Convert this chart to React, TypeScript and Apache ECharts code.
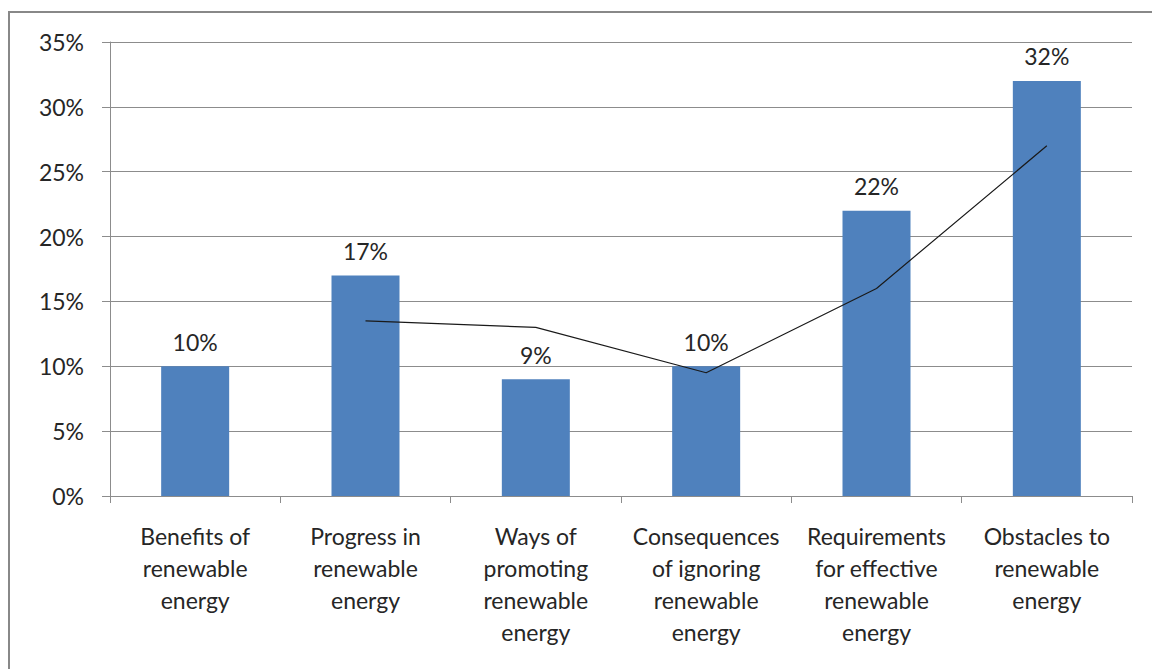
import React, { useEffect, useRef } from "react";
import * as echarts from "echarts";

const categories = [
  "Benefits of\nrenewable\nenergy",
  "Progress in\nrenewable\nenergy",
  "Ways of\npromoting\nrenewable\nenergy",
  "Consequences\nof ignoring\nrenewable\nenergy",
  "Requirements\nfor effective\nrenewable\nenergy",
  "Obstacles to\nrenewable\nenergy",
];
const shares = [10, 17, 9, 10, 22, 32];
const movingAverage = [null, 13.5, 13, 9.5, 16, 27];
const yTicks = [0, 5, 10, 15, 20, 25, 30, 35];

export default function App() {
  const ref = useRef<HTMLDivElement>(null);
  useEffect(() => {
    if (!ref.current) return;
    const chart = echarts.init(ref.current, null, { renderer: "svg" });
    const font = "Lato, 'Open Sans', sans-serif";
    const textColor = "#262626";
    chart.setOption({
      animation: false,
      backgroundColor: "#ffffff",
      textStyle: { fontFamily: font },
      grid: { left: 110, right: 20, top: 42, bottom: 173, containLabel: false },
      graphic: [
        {
          type: "rect",
          shape: { x: 9, y: 12, width: 1170, height: 700 },
          style: { fill: "none", stroke: "#888888", lineWidth: 2 },
          silent: true,
        },
      ],
      xAxis: {
        type: "category",
        data: categories,
        boundaryGap: true,
        axisLine: { show: true, lineStyle: { color: "#8c8c8c", width: 1 } },
        axisTick: { show: true, length: 7, lineStyle: { color: "#8c8c8c" }, alignWithLabel: false },
        axisLabel: {
          interval: 0,
          color: textColor,
          fontSize: 23,
          lineHeight: 32,
          margin: 24,
          fontFamily: font,
        },
      },
      yAxis: {
        type: "value",
        min: yTicks[0],
        max: yTicks[yTicks.length - 1],
        interval: 5,
        axisLine: { show: true, lineStyle: { color: "#8c8c8c", width: 1 } },
        axisTick: { show: true, length: 8, lineStyle: { color: "#8c8c8c" } },
        splitLine: { show: true, lineStyle: { color: "#8c8c8c", width: 1 } },
        axisLabel: {
          color: textColor,
          fontSize: 23,
          margin: 26,
          fontFamily: font,
          formatter: (v: number) => `${v}%`,
        },
      },
      series: [
        {
          type: "bar",
          data: shares,
          barWidth: 68,
          itemStyle: { color: "#4f81bd" },
          label: {
            show: true,
            position: "top",
            distance: 13,
            color: textColor,
            fontSize: 23,
            fontFamily: font,
            formatter: (p: any) => `${p.value}%`,
          },
        },
        {
          type: "line",
          data: movingAverage,
          showSymbol: false,
          symbol: "none",
          connectNulls: false,
          lineStyle: { color: "#1a1a1a", width: 1.2 },
          z: 5,
        },
      ],
    });
    return () => chart.dispose();
  }, []);
  return (
    <div
      ref={ref}
      style={{ position: "absolute", left: 0, top: 0, width: 1152, height: 669 }}
    />
  );
}
